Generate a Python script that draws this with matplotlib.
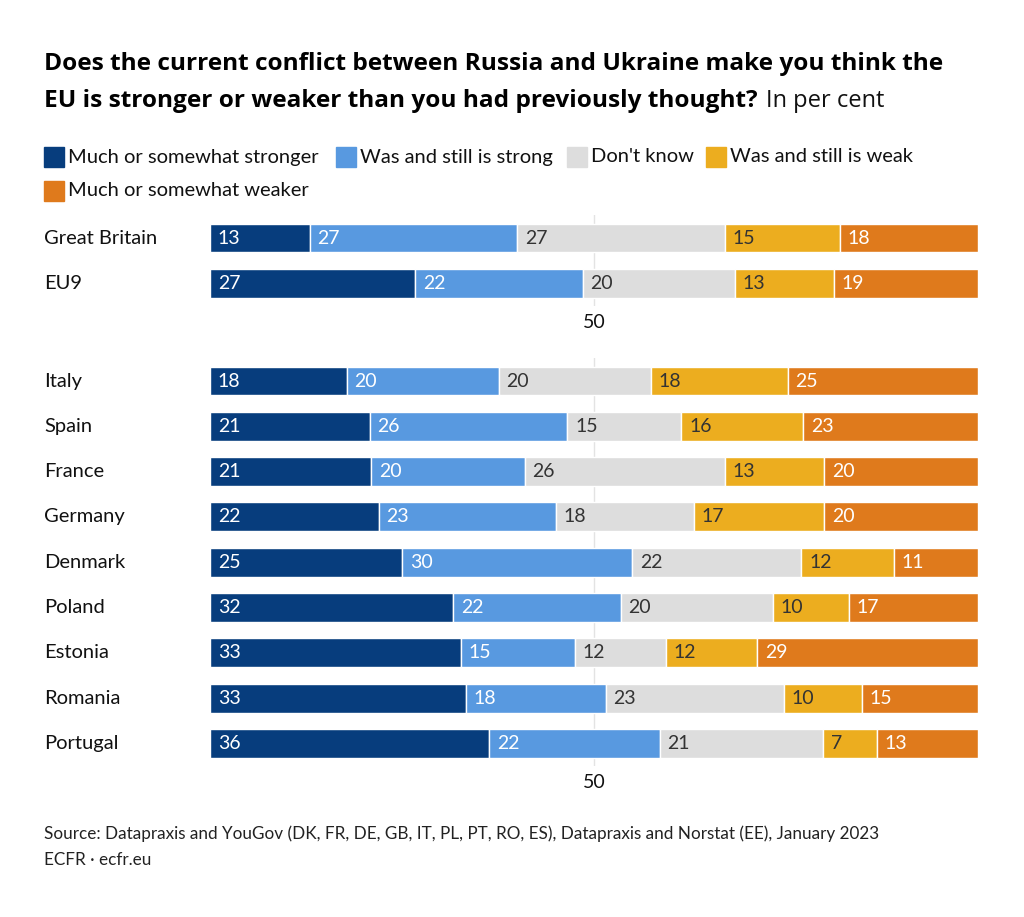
import matplotlib
matplotlib.use("Agg")
import matplotlib.pyplot as plt
from matplotlib.patches import Rectangle
import numpy as np

plt.rcParams['font.family'] = ['Lato', 'DejaVu Sans']

series = ["Much or somewhat stronger", "Was and still is strong", "Don't know",
          "Was and still is weak", "Much or somewhat weaker"]
colors = ["#073d7d", "#5899e0", "#dddddd", "#ecad1f", "#df7a1c"]
text_colors = ["white", "white", "#333333", "#333333", "white"]

top_countries = ["Great Britain", "EU9"]
top_values = [
    [13, 27, 27, 15, 18],
    [27, 22, 20, 13, 19],
]
bottom_countries = ["Italy", "Spain", "France", "Germany", "Denmark", "Poland",
                    "Estonia", "Romania", "Portugal"]
bottom_values = [
    [18, 20, 20, 18, 25],
    [21, 26, 15, 16, 23],
    [21, 20, 26, 13, 20],
    [22, 23, 18, 17, 20],
    [25, 30, 22, 12, 11],
    [32, 22, 20, 10, 17],
    [33, 15, 12, 12, 29],
    [33, 18, 23, 10, 15],
    [36, 22, 21, 7, 13],
]
xticks = [50]

W, H = 1024, 917
fig = plt.figure(figsize=(W / 100, H / 100), dpi=100)
fig.patch.set_facecolor("white")
r = fig.canvas.get_renderer()

step = 45.3
left_px, right_px = 210, 978
LBL = 14

def make_axes(top_px, n):
    h = n * step
    ax = fig.add_axes([left_px / W, 1 - (top_px + h) / H, (right_px - left_px) / W, h / H])
    ax.set_xlim(0, 100)
    ax.set_ylim(n - 0.5, -0.5)
    for s in ax.spines.values():
        s.set_visible(False)
    ax.set_yticks([])
    ax.set_xticks(xticks)
    ax.set_xticklabels([str(t) for t in xticks])
    ax.tick_params(axis="x", length=0, pad=6, labelsize=14, labelcolor="#111111")
    for t in xticks:
        ax.axvline(t, color="#e3e3e3", lw=1, zorder=0)
    return ax

def draw(ax, countries, values):
    vals = np.array(values, dtype=float)
    # segments are shares of each row's total (rounded values do not always add to 100)
    widths = vals / vals.sum(axis=1, keepdims=True) * 100
    ypos = np.arange(len(countries))
    lefts = np.zeros(len(countries))
    for j in range(vals.shape[1]):
        ax.barh(ypos, widths[:, j], left=lefts, height=0.64, color=colors[j],
                edgecolor="white", linewidth=1, zorder=2)
        for i in range(len(countries)):
            ax.text(lefts[i] + 1.0, ypos[i], f"{int(vals[i, j])}", va="center", ha="left",
                    color=text_colors[j], fontsize=LBL, zorder=3)
        lefts += widths[:, j]
    for i, c in enumerate(countries):
        ax.text(-21.6, ypos[i], c, va="center", ha="left", fontsize=14.5, color="#111111",
                transform=ax.transData, clip_on=False)

ax1 = make_axes(238 - step / 2, len(top_countries))
draw(ax1, top_countries, top_values)
ax2 = make_axes(381 - step / 2, len(bottom_countries))
draw(ax2, bottom_countries, bottom_values)

def fit(t, target_px):
    bb = t.get_window_extent(r)
    t.set_fontsize(t.get_fontsize() * target_px / bb.width)

# Title
TF = ['Open Sans', 'DejaVu Sans']
t1 = fig.text(44 / W, 1 - 64 / H, "Does the current conflict between Russia and Ukraine make you think the",
              fontsize=18, fontweight="bold", va="center", ha="left", color="black", family=TF)
fit(t1, 902)
t2 = fig.text(44 / W, 1 - 101 / H, "EU is stronger or weaker than you had previously thought?",
              fontsize=t1.get_fontsize(), fontweight="bold", va="center", ha="left",
              color="black", family=TF)
bb = t2.get_window_extent(r)
t3 = fig.text((bb.x1 + 8) / W, 1 - 101 / H, "In per cent", fontsize=18, va="center", ha="left",
              color="#111111", family=TF)
fit(t3, 118)

# Legend
leg_pos = [(44, 157), (336, 157), (567, 157), (706, 157), (44, 191)]
for (x, y), lab, col in zip(leg_pos, series, colors):
    fig.patches.append(Rectangle((x / W, 1 - (y + 10) / H), 20 / W, 20 / H,
                                 transform=fig.transFigure, color=col, figure=fig))
    fig.text((x + 24) / W, 1 - y / H, lab, fontsize=14.5, va="center", ha="left", color="#111111")

# Source
s1 = fig.text(44 / W, 1 - 834 / H,
              "Source: Datapraxis and YouGov (DK, FR, DE, GB, IT, PL, PT, RO, ES), Datapraxis and Norstat (EE), January 2023",
              fontsize=12.5, va="center", ha="left", color="#222222")
fit(s1, 836)
fig.text(44 / W, 1 - 860 / H, "ECFR · ecfr.eu", fontsize=s1.get_fontsize(), va="center", ha="left",
         color="#222222")

fig.savefig("out.png", dpi=100, facecolor="white")
